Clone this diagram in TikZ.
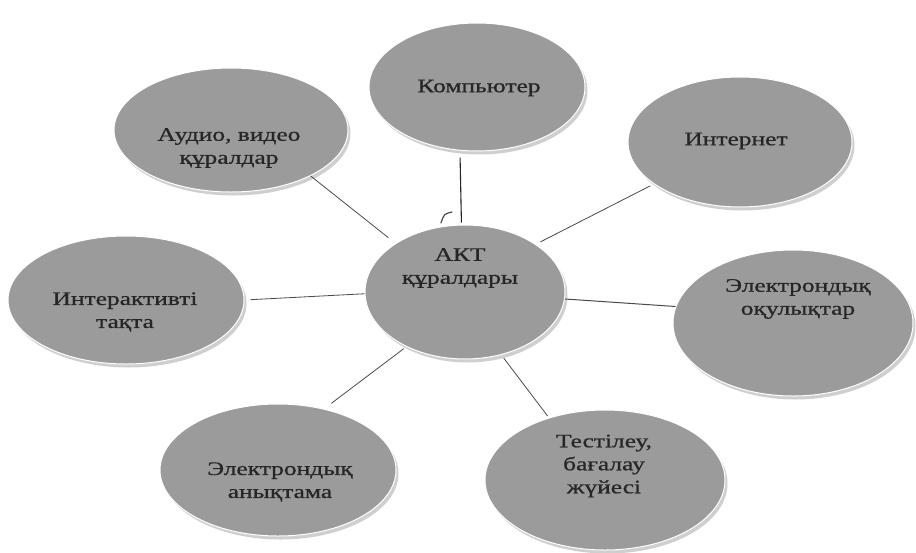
\documentclass[tikz,border=0pt]{standalone}
\usepackage{fontspec}
\setmainfont{Liberation Serif}
\newfontfamily\lblfont{Liberation Serif}[FakeBold=0.7]
\usetikzlibrary{shapes.geometric}
\definecolor{ellfill}{HTML}{9B9B9B}
\definecolor{shadowc}{HTML}{CFCFCF}
\definecolor{textc}{HTML}{262626}
\definecolor{linec}{HTML}{4A4A4A}
\newcommand\bubble[5]{%
  \fill[shadowc] (#2+2.5,#3+3.5) ellipse [x radius=#4, y radius=#5];
  \node[bub, minimum width={2*#4pt}, minimum height={2*#5pt}] (#1) at (#2,#3) {};
}
\begin{document}
\begin{tikzpicture}[x=1pt,y=-1pt,
  bub/.style={ellipse, fill=ellfill, draw=white, line width=1pt, inner sep=0pt},
  lbl/.style={align=center, font=\lblfont\fontsize{19}{23}\selectfont, text=textc, xscale=1.34, inner sep=0pt},
  conn/.style={draw=linec, line width=0.8pt}]
\useasboundingbox[fill=white] (0,0) rectangle (916,552);

\bubble{comp}{477}{87}{108}{64}
\bubble{aud}{231}{130}{117}{62}
\bubble{inet}{740}{142}{112}{65}
\bubble{akt}{465}{292}{100}{67}
\bubble{ia}{126}{300}{118}{64}
\bubble{okul}{793}{323}{120}{73}
\bubble{any}{278}{470}{118}{66}
\bubble{test}{605}{480}{120}{70}

\node[lbl] (tcomp) at (479,88) {Компьютер};
\node[lbl] (taud) at (229,148) {Аудио, видео\\құралдар};
\node[lbl] (tinet) at (736,141) {Интернет};
\node[lbl] (takt) at (460,268) {АКТ\\құралдары};
\node[lbl] (tia) at (125,312) {Интерактивті\\тақта};
\node[lbl] (tokul) at (798,299) {Электрондық\\оқулықтар};
\node[lbl] (tany) at (280,482) {Электрондық\\анықтама};
\node[lbl] (ttest) at (604,466) {Тестілеу,\\бағалау\\жүйесі};

\draw[conn, draw=black!85, line width=1.1pt, shorten <=7pt, shorten >=2pt] (comp.255) -- (akt.93);
\draw[conn, shorten >=9pt] (aud.330) -- (akt.145);
\draw[conn, shorten <=4pt, shorten >=5pt] (inet.206) -- (akt.34);
\draw[conn, shorten <=6pt] (ia.0) -- (akt.181);
\draw[conn, line width=1pt] (akt.356) -- (okul.172);
\draw[conn, shorten <=3pt, shorten >=9pt] (akt.223) -- (any.53);
\draw[conn, shorten <=4pt, shorten >=2pt] (akt.300) -- (test.132);

\draw[linec, line width=1.2pt, line cap=round] (441,223) .. controls (444,214) .. (452,212);
\end{tikzpicture}
\end{document}
